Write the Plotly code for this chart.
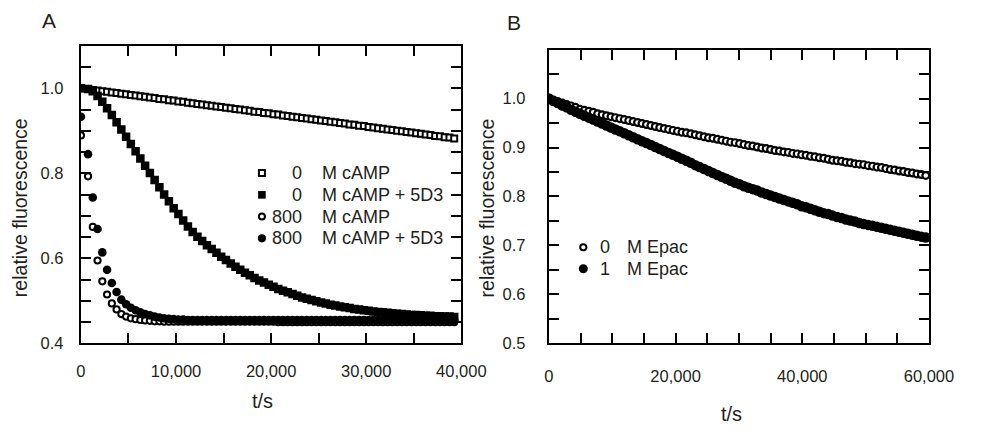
import plotly.graph_objects as go

# ---------------- Panel A data (time in s) ----------------
t_a = [0, 750, 1250, 1750, 2250, 2750, 3250, 3750, 4250, 4750,
       5250, 5750, 6250, 6750, 7250, 7750, 8250, 8750, 9250, 9750,
       10250, 10750, 11250, 11750, 12250, 12750, 13250, 13750, 14250, 14750,
       15250, 15750, 16250, 16750, 17250, 17750, 18250, 18750, 19250, 19750,
       20250, 20750, 21250, 21750, 22250, 22750, 23250, 23750, 24250, 24750,
       25250, 25750, 26250, 26750, 27250, 27750, 28250, 28750, 29250, 29750,
       30250, 30750, 31250, 31750, 32250, 32750, 33250, 33750, 34250, 34750,
       35250, 35750, 36250, 36750, 37250, 37750, 38250, 38750, 39250]

a_0_camp = [1.000, 0.998, 0.996, 0.995, 0.993, 0.992, 0.990, 0.989, 0.987, 0.986,
            0.984, 0.983, 0.981, 0.980, 0.978, 0.977, 0.975, 0.974, 0.972, 0.971,
            0.969, 0.968, 0.966, 0.965, 0.963, 0.962, 0.960, 0.959, 0.957, 0.956,
            0.954, 0.953, 0.951, 0.950, 0.948, 0.947, 0.945, 0.944, 0.942, 0.941,
            0.939, 0.938, 0.936, 0.935, 0.933, 0.932, 0.930, 0.929, 0.927, 0.926,
            0.924, 0.923, 0.921, 0.920, 0.918, 0.917, 0.915, 0.914, 0.912, 0.911,
            0.909, 0.908, 0.906, 0.905, 0.903, 0.902, 0.900, 0.899, 0.897, 0.896,
            0.894, 0.893, 0.891, 0.890, 0.888, 0.887, 0.885, 0.884, 0.882]

a_0_camp_5d3 = [1.000, 0.998, 0.993, 0.982, 0.968, 0.953, 0.937, 0.920, 0.903, 0.886,
                0.869, 0.852, 0.835, 0.818, 0.801, 0.784, 0.767, 0.750, 0.734, 0.718,
                0.704, 0.689, 0.675, 0.662, 0.651, 0.641, 0.631, 0.622, 0.613, 0.604,
                0.596, 0.588, 0.580, 0.573, 0.566, 0.560, 0.554, 0.548, 0.543, 0.538,
                0.533, 0.528, 0.524, 0.520, 0.516, 0.512, 0.508, 0.505, 0.502, 0.499,
                0.496, 0.494, 0.491, 0.489, 0.487, 0.485, 0.483, 0.481, 0.480, 0.478,
                0.477, 0.475, 0.474, 0.473, 0.472, 0.471, 0.470, 0.469, 0.468, 0.467,
                0.467, 0.466, 0.465, 0.465, 0.464, 0.464, 0.463, 0.463, 0.462]

a_800_camp = [0.889, 0.793, 0.674, 0.595, 0.546, 0.515, 0.494, 0.480, 0.469, 0.463,
              0.459, 0.457, 0.455, 0.454, 0.453, 0.452, 0.452, 0.451, 0.451, 0.451,
              0.451, 0.451, 0.451, 0.451, 0.451, 0.451, 0.451, 0.451, 0.451, 0.451,
              0.451, 0.451, 0.451, 0.451, 0.451, 0.451, 0.451, 0.451, 0.451, 0.451,
              0.451, 0.450, 0.450, 0.450, 0.450, 0.450, 0.450, 0.450, 0.450, 0.450,
              0.450, 0.450, 0.450, 0.450, 0.450, 0.450, 0.450, 0.450, 0.450, 0.450,
              0.450, 0.450, 0.450, 0.450, 0.450, 0.450, 0.450, 0.450, 0.450, 0.450,
              0.450, 0.450, 0.450, 0.450, 0.450, 0.450, 0.450, 0.450, 0.450]

a_800_camp_5d3 = [0.933, 0.845, 0.743, 0.669, 0.614, 0.573, 0.542, 0.521, 0.503, 0.492,
                  0.484, 0.478, 0.473, 0.469, 0.466, 0.463, 0.461, 0.459, 0.458, 0.457,
                  0.456, 0.456, 0.455, 0.455, 0.455, 0.455, 0.455, 0.455, 0.455, 0.455,
                  0.455, 0.455, 0.455, 0.455, 0.455, 0.455, 0.455, 0.455, 0.455, 0.455,
                  0.455, 0.455, 0.455, 0.455, 0.455, 0.455, 0.455, 0.455, 0.455, 0.455,
                  0.455, 0.455, 0.455, 0.455, 0.455, 0.455, 0.455, 0.455, 0.455, 0.455,
                  0.455, 0.455, 0.455, 0.455, 0.455, 0.455, 0.455, 0.455, 0.455, 0.455,
                  0.455, 0.455, 0.455, 0.455, 0.455, 0.455, 0.455, 0.455, 0.455]

legend_a_num = ["0", "0", "800", "800"]
legend_a_text = ["M cAMP", "M cAMP + 5D3", "M cAMP", "M cAMP + 5D3"]

# ---------------- Panel B data (time in s) ----------------
t_b = [0, 700, 1400, 2100, 2800, 3500, 4200, 4900, 5600, 6300,
       7000, 7700, 8400, 9100, 9800, 10500, 11200, 11900, 12600, 13300,
       14000, 14700, 15400, 16100, 16800, 17500, 18200, 18900, 19600, 20300,
       21000, 21700, 22400, 23100, 23800, 24500, 25200, 25900, 26600, 27300,
       28000, 28700, 29400, 30100, 30800, 31500, 32200, 32900, 33600, 34300,
       35000, 35700, 36400, 37100, 37800, 38500, 39200, 39900, 40600, 41300,
       42000, 42700, 43400, 44100, 44800, 45500, 46200, 46900, 47600, 48300,
       49000, 49700, 50400, 51100, 51800, 52500, 53200, 53900, 54600, 55300,
       56000, 56700, 57400, 58100, 58800, 59500]

b_0_epac = [1.000, 0.997, 0.994, 0.991, 0.988, 0.985, 0.982, 0.978, 0.976, 0.974,
            0.972, 0.969, 0.967, 0.965, 0.963, 0.961, 0.959, 0.957, 0.955, 0.953,
            0.951, 0.949, 0.947, 0.945, 0.943, 0.941, 0.939, 0.937, 0.935, 0.933,
            0.931, 0.930, 0.928, 0.926, 0.924, 0.922, 0.920, 0.919, 0.917, 0.915,
            0.913, 0.911, 0.910, 0.908, 0.906, 0.904, 0.903, 0.901, 0.899, 0.898,
            0.896, 0.894, 0.893, 0.891, 0.890, 0.888, 0.887, 0.885, 0.884, 0.882,
            0.881, 0.879, 0.878, 0.876, 0.874, 0.873, 0.872, 0.870, 0.869, 0.867,
            0.866, 0.865, 0.863, 0.862, 0.860, 0.859, 0.857, 0.855, 0.854, 0.852,
            0.851, 0.849, 0.848, 0.846, 0.845, 0.843]

b_1_epac = [1.000, 0.995, 0.991, 0.986, 0.982, 0.977, 0.973, 0.969, 0.965, 0.961,
            0.957, 0.953, 0.949, 0.945, 0.941, 0.937, 0.933, 0.929, 0.925, 0.921,
            0.917, 0.913, 0.909, 0.905, 0.901, 0.897, 0.893, 0.889, 0.885, 0.881,
            0.877, 0.873, 0.869, 0.864, 0.860, 0.856, 0.852, 0.848, 0.844, 0.840,
            0.836, 0.832, 0.828, 0.825, 0.821, 0.818, 0.815, 0.812, 0.808, 0.805,
            0.802, 0.799, 0.796, 0.793, 0.790, 0.787, 0.784, 0.780, 0.778, 0.775,
            0.772, 0.769, 0.766, 0.764, 0.761, 0.758, 0.756, 0.753, 0.751, 0.749,
            0.746, 0.744, 0.742, 0.740, 0.738, 0.736, 0.734, 0.732, 0.730, 0.728,
            0.726, 0.724, 0.722, 0.720, 0.718, 0.716]

legend_b_num = ["0", "1"]
legend_b_text = ["M Epac", "M Epac"]

# ---------------- Figure ----------------
W, H = 984, 432
FONT = "Liberation Sans, Arial, sans-serif"
TXT = "#231f20"


def px(x):
    return x / W


def py(y):
    return 1 - y / H


fig = go.Figure()

# Panel A traces
fig.add_trace(go.Scatter(x=t_a, y=a_0_camp, mode="markers", xaxis="x", yaxis="y",
                         marker=dict(symbol="square", size=6, color="white",
                                     line=dict(color="black", width=2))))
fig.add_trace(go.Scatter(x=t_a, y=a_0_camp_5d3, mode="markers", xaxis="x", yaxis="y",
                         marker=dict(symbol="square", size=8.5, color="black",
                                     line=dict(width=0))))
fig.add_trace(go.Scatter(x=t_a, y=a_800_camp, mode="markers", xaxis="x", yaxis="y",
                         marker=dict(symbol="circle", size=6.2, color="white",
                                     line=dict(color="black", width=2))))
fig.add_trace(go.Scatter(x=t_a, y=a_800_camp_5d3, mode="markers", xaxis="x", yaxis="y",
                         marker=dict(symbol="circle", size=8.6, color="black",
                                     line=dict(width=0))))

# Panel B traces
fig.add_trace(go.Scatter(x=t_b, y=b_0_epac, mode="markers", xaxis="x2", yaxis="y2",
                         marker=dict(symbol="circle", size=6.8, color="white",
                                     line=dict(color="black", width=2.2))))
fig.add_trace(go.Scatter(x=t_b, y=b_1_epac, mode="markers", xaxis="x2", yaxis="y2",
                         marker=dict(symbol="circle", size=10.5, color="black",
                                     line=dict(width=0))))

axis_common = dict(showline=True, linecolor="black", linewidth=2.2, mirror="ticks",
                   ticks="inside", ticklen=10, tickwidth=2, tickcolor="black",
                   showgrid=False, zeroline=False,
                   tickfont=dict(family=FONT, size=16.5, color=TXT))

minor_common = dict(ticks="inside", ticklen=10, tickwidth=2, tickcolor="black")

fig.update_layout(
    width=W, height=H,
    margin=dict(l=0, r=0, t=0, b=0),
    paper_bgcolor="white", plot_bgcolor="white",
    showlegend=False,
    font=dict(family=FONT, color=TXT),
    xaxis=dict(domain=[px(78.3), px(470.7)], range=[0, 40000], anchor="y",
               dtick=10000, tick0=0, tickformat=",d", ticklabelstandoff=12,
               minor=dict(dtick=5000, tick0=0, **minor_common),
               **axis_common),
    yaxis=dict(domain=[py(350.7), py(46.7)], range=[0.4, 1.1], anchor="x",
               dtick=0.2, tick0=0.4, tickformat=".1f", ticklabelstandoff=12,
               minor=dict(dtick=0.05, tick0=0.4, **minor_common),
               **axis_common),
    xaxis2=dict(domain=[px(561), px(953)], range=[0, 60000], anchor="y2",
                dtick=20000, tick0=0, tickformat=",d", ticklabelstandoff=17,
                minor=dict(dtick=5000, tick0=0, **minor_common),
                **axis_common),
    yaxis2=dict(domain=[py(350.7), py(50.7)], range=[0.5, 1.0999], anchor="x2",
                dtick=0.1, tick0=0.5, tickformat=".1f", ticklabelstandoff=18,
                minor=dict(dtick=0.05, tick0=0.5, **minor_common),
                **axis_common),
)

annotations = []
shapes = []


def text(x, y, s, size, xanchor="center", angle=0):
    annotations.append(dict(x=px(x), y=py(y), xref="paper", yref="paper", text=s,
                            showarrow=False, xanchor=xanchor, yanchor="middle",
                            textangle=angle,
                            font=dict(family=FONT, size=size, color=TXT)))


# panel letters
text(45, 20.5, "A", 21)
text(525, 22.5, "B", 21)
# axis titles
text(15, 212, "relative fluorescence", 19.5, angle=-90)
text(497, 212, "relative fluorescence", 19.5, angle=-90)
text(266, 410, "t/s", 20)
text(749, 423, "t/s", 20)


def legend_marker(x, y, kind, filled, r):
    shapes.append(dict(type=kind, xref="paper", yref="paper",
                       xsizemode="pixel", ysizemode="pixel",
                       xanchor=px(x), yanchor=py(y),
                       x0=-r, x1=r, y0=-r, y1=r,
                       fillcolor="black" if filled else "white",
                       line=dict(color="black", width=0 if filled else 2),
                       layer="above"))


rows_a = [176.7, 199.0, 221.2, 243.4]
kinds_a = [("rect", False, 3.0), ("rect", True, 3.8), ("circle", False, 3.0), ("circle", True, 4.1)]
for yy, num, lab, (kind, filled, r) in zip(rows_a, legend_a_num, legend_a_text, kinds_a):
    legend_marker(265, yy, kind, filled, r)
    text(308.5, yy, num, 18, xanchor="right")
    text(325, yy, lab, 18, xanchor="left")

rows_b = [252.5, 274.5]
for yy, num, lab, (filled, r) in zip(rows_b, legend_b_num, legend_b_text,
                                    [(False, 3.1), (True, 4.5)]):
    legend_marker(596.5, yy, "circle", filled, r)
    text(611.5, yy, num, 18, xanchor="left")
    text(639, yy, lab, 18, xanchor="left")

fig.update_layout(annotations=annotations, shapes=shapes)

fig.write_html(
    "out.html",
    config={"displayModeBar": False},
    post_script="document.body.style.margin='0';document.body.style.overflow='hidden';",
)
